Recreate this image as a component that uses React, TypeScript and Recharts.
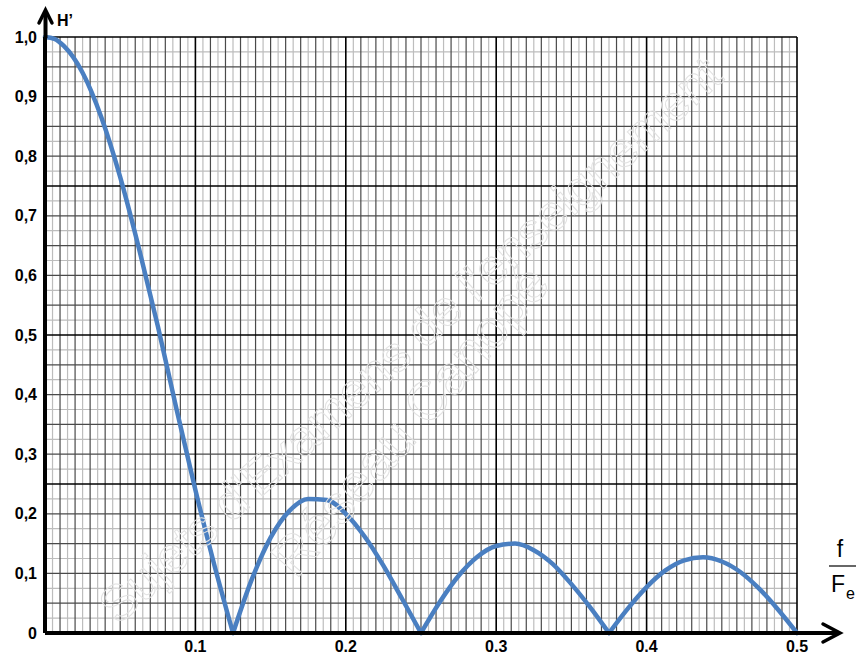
import React from 'react';
import { LineChart, Line, XAxis, YAxis, CartesianGrid } from 'recharts';

// f / Fe (x) and H' (y)
const fValues = [
  0, 0.00625, 0.0125, 0.025, 0.0375, 0.05, 0.0625, 0.075, 0.0875, 0.1, 0.1125, 0.125,
  0.1375, 0.15, 0.1625, 0.175, 0.1875, 0.2, 0.2125, 0.225, 0.2375, 0.25,
  0.2625, 0.275, 0.2875, 0.3, 0.3125, 0.325, 0.3375, 0.35, 0.3625, 0.375,
  0.3875, 0.4, 0.4125, 0.425, 0.4375, 0.45, 0.4625, 0.475, 0.4875, 0.5,
];
const hValues = [
  1.0, 0.997, 0.985, 0.94, 0.865, 0.765, 0.645, 0.515, 0.375, 0.24, 0.115, 0.0,
  0.09, 0.16, 0.205, 0.225, 0.223, 0.2, 0.162, 0.113, 0.057, 0.0,
  0.052, 0.096, 0.128, 0.146, 0.15, 0.139, 0.116, 0.082, 0.043, 0.0,
  0.041, 0.077, 0.105, 0.122, 0.127, 0.12, 0.102, 0.074, 0.039, 0.0,
];
// zeros of H' separating the lobes
const lobeBounds = [0, 0.125, 0.25, 0.375, 0.5];
const xTicks = [0.1, 0.2, 0.3, 0.4, 0.5];
const yTicks = [0, 0.1, 0.2, 0.3, 0.4, 0.5, 0.6, 0.7, 0.8, 0.9, 1.0];
const xTickLabels = ['0.1', '0.2', '0.3', '0.4', '0.5'];
const yTickLabels = ['0', '0,1', '0,2', '0,3', '0,4', '0,5', '0,6', '0,7', '0,8', '0,9', '1,0'];

const data = fValues.map((f, i) => ({ f, h: hValues[i] }));
const lobes = lobeBounds.slice(0, -1).map((lo, k) =>
  data.filter((d) => d.f >= lo && d.f <= lobeBounds[k + 1])
);

// graph-paper grid positions
const r = (v: number) => Math.round(v * 10000) / 10000;
const vLight: number[] = [];
const vDark: number[] = [];
const vHeavy: number[] = [];
for (let i = 0; i <= 100; i++) {
  const v = r(i * 0.005);
  if (i % 20 === 0) vHeavy.push(v);
  else if (i % 2 === 0) vDark.push(v);
  else vLight.push(v);
}
const hLight: number[] = [];
const hDark: number[] = [];
const hHeavy: number[] = [];
for (let i = 0; i <= 40; i++) {
  const v = r(i * 0.025);
  if (i % 10 === 0) hHeavy.push(v);
  else if (i % 2 === 0) hDark.push(v);
  else hLight.push(v);
}

const FONT = '"Liberation Sans", Arial, sans-serif';

export default function App() {
  return (
    <div style={{ position: 'absolute', left: 0, top: 0, width: 856, height: 654, background: '#fff', fontFamily: FONT }}>
      <LineChart width={856} height={654} data={data} margin={{ top: 37, right: 59, bottom: 0, left: 0 }}>
        <CartesianGrid horizontal={false} verticalValues={vLight} stroke="#bdbdbd" strokeWidth={1.2} />
        <CartesianGrid vertical={false} horizontalValues={hLight} stroke="#bdbdbd" strokeWidth={1.2} />
        <CartesianGrid horizontal={false} verticalValues={vDark} stroke="#4a4a4a" strokeWidth={1.2} />
        <CartesianGrid vertical={false} horizontalValues={hDark} stroke="#4a4a4a" strokeWidth={1.2} />
        <CartesianGrid horizontal={false} verticalValues={vHeavy} stroke="#000" strokeWidth={1.6} />
        <CartesianGrid vertical={false} horizontalValues={hHeavy} stroke="#000" strokeWidth={1.6} />
        <XAxis
          dataKey="f"
          type="number"
          domain={[0, 0.5]}
          ticks={xTicks}
          tickFormatter={(v: number) => xTickLabels[xTicks.indexOf(v)] ?? String(v)}
          height={21}
          axisLine={{ stroke: '#000', strokeWidth: 4 }}
          tickLine={false}
          tick={{ fontSize: 16, fontWeight: 'bold', fill: '#000', fontFamily: FONT }}
          interval={0}
        />
        <YAxis
          type="number"
          domain={[0, 1]}
          ticks={yTicks}
          tickFormatter={(v: number) => yTickLabels[yTicks.indexOf(v)] ?? String(v)}
          width={45}
          axisLine={{ stroke: '#000', strokeWidth: 4 }}
          tickLine={false}
          tick={{ fontSize: 16, fontWeight: 'bold', fill: '#000', fontFamily: FONT }}
          interval={0}
        />
        {lobes.map((lobe, k) => (
          <Line
            key={k}
            data={lobe}
            type="monotoneX"
            dataKey="h"
            stroke="#4a7fc1"
            strokeWidth={4.5}
            dot={false}
            activeDot={false}
            isAnimationActive={false}
            strokeLinejoin="round"
            strokeLinecap="round"
          />
        ))}
      </LineChart>
      <svg width={856} height={654} style={{ position: 'absolute', left: 0, top: 0, pointerEvents: 'none' }}>
        {/* watermark */}
        <g fill="none" stroke="#e2e2e2" strokeWidth={1} fontFamily={FONT}>
          <text x={118} y={626} fontSize={50} transform="rotate(-42 118 626)">Sujets d'Examens de l'enseignement</text>
          <text x={296} y={580} fontSize={54} transform="rotate(-49 296 580)">Réseau Canopé</text>
        </g>
        {/* y axis arrow */}
        <line x1={45.5} y1={38} x2={45.5} y2={12} stroke="#000" strokeWidth={4} />
        <polyline points="39,23 45.5,10 52,23" fill="none" stroke="#000" strokeWidth={3.5} strokeLinecap="round" />
        <text x={57} y={26} fontSize={16} fontWeight="bold" fill="#000" fontFamily={FONT}>H’</text>
        {/* x axis arrow */}
        <line x1={795} y1={633} x2={838} y2={633} stroke="#000" strokeWidth={4} />
        <polyline points="823,624 840,633 823,642" fill="none" stroke="#000" strokeWidth={3.5} strokeLinecap="round" />
        {/* f / Fe label */}
        <text x={840} y={557} fontSize={23} fill="#000" fontFamily={FONT} textAnchor="middle">f</text>
        <line x1={829} y1={566} x2={856} y2={566} stroke="#000" strokeWidth={1.2} />
        <text x={831} y={592} fontSize={23} fill="#000" fontFamily={FONT}>F</text>
        <text x={846} y={599} fontSize={16} fill="#000" fontFamily={FONT}>e</text>
      </svg>
    </div>
  );
}
